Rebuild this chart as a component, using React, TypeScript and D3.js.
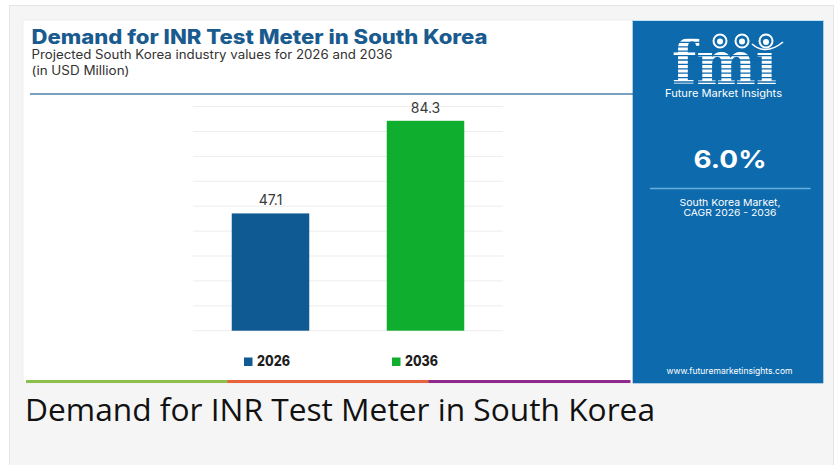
import React from "react";
import * as d3 from "d3";

const years = ["2026", "2036"];
const values = [47.1, 84.3];
const yDomainMax = 90;
const title = "Demand for INR Test Meter in South Korea";
const subtitle = "Projected South Korea industry values for 2026 and 2036";
const unitLabel = "(in USD Million)";
const cagrValue = "6.0%";
const cagrLabel1 = "South Korea Market,";
const cagrLabel2 = "CAGR 2026 - 2036";
const brand = "Future Market Insights";
const website = "www.futuremarketinsights.com";
const caption = "Demand for INR Test Meter in South Korea";

const barColors = ["#0f5a92", "#10ae2e"];
const stripeColors = ["#8cc04b", "#e8623b", "#8f2a8d"];
const PANEL = "#0c6aad";
const POP = "Inter, Roboto, 'Noto Sans', sans-serif";

export default function App() {
  const x = d3.scaleBand<string>().domain(years).range([193, 503]).paddingInner(0.5).paddingOuter(0.25);
  const y = d3.scaleLinear().domain([0, yDomainMax]).range([330.7, 106.6]);
  const ticks = y.ticks(9);
  const legendX = d3.scalePoint<string>().domain(years).range([244, 392]);
  const stripeX = d3.scaleBand<string>().domain(stripeColors).range([26, 630]);
  const logoStripes = d3.range(38, 86, 4.4);

  return (
    <div style={{ position: "fixed", left: 0, top: 0, width: 838, height: 465, background: "#fff" }}>
      <svg width={838} height={465} style={{ display: "block" }}>
        <rect x={9.5} y={5.5} width={824} height={470} fill="#f5f5f5" stroke="#e4e4e4" />
        {/* image card */}
        <rect x={23} y={20} width={610} height={363} fill="#ffffff" stroke="#ececec" strokeWidth={0.8} />
        <text x={31.5} y={43.5} fontFamily={POP} fontWeight={800} fontSize={19.5} fill="#1a5b8f" textLength={456} lengthAdjust="spacingAndGlyphs">{title}</text>
        <text x={31.5} y={59} fontFamily={POP} fontSize={12.5} fill="#333" textLength={361} lengthAdjust="spacingAndGlyphs">{subtitle}</text>
        <text x={31.5} y={75} fontFamily={POP} fontSize={12.5} fill="#333" textLength={98} lengthAdjust="spacingAndGlyphs">{unitLabel}</text>
        <line x1={30} x2={633} y1={94} y2={94} stroke="#4f81a8" strokeWidth={1.6} />

        {ticks.map((t) => (
          <line key={t} x1={193} x2={503} y1={y(t)} y2={y(t)} stroke="#ededed" strokeWidth={1} />
        ))}
        {years.map((yr, i) => (
          <g key={yr}>
            <rect x={x(yr)} y={y(values[i])} width={x.bandwidth()} height={y(0) - y(values[i])} fill={barColors[i]} />
            <text x={(x(yr) as number) + x.bandwidth() / 2} y={y(values[i]) - 8} textAnchor="middle" fontFamily={POP} fontSize={14} fill="#3a3a3a">
              {values[i].toFixed(1)}
            </text>
          </g>
        ))}
        {years.map((yr, i) => (
          <g key={"lg" + yr}>
            <rect x={legendX(yr)} y={357.5} width={8.5} height={8.5} fill={barColors[i]} />
            <text x={(legendX(yr) as number) + 13} y={366} fontFamily={POP} fontWeight={800} fontSize={14} fill="#1e1e1e" textLength={33} lengthAdjust="spacingAndGlyphs">{yr}</text>
          </g>
        ))}
        {stripeColors.map((c) => (
          <rect key={c} x={stripeX(c)} y={380} width={stripeX.bandwidth() + 0.5} height={3} fill={c} />
        ))}

        {/* right panel */}
        <rect x={632.7} y={20} width={190.6} height={363.3} fill={PANEL} />
        <line x1={632.7} x2={823.3} y1={20.5} y2={20.5} stroke="#bfe6f5" strokeWidth={1} />
        <g transform="translate(672,83.5) scale(1,1.6)">
          <text x={0} y={0} fontFamily="'DejaVu Serif', serif" fontWeight={700} fontSize={37.5} fill="#fff" textLength={105} lengthAdjust="spacingAndGlyphs">fmı</text>
        </g>
        {logoStripes.map((s) => (
          <line key={s} x1={668} x2={782} y1={s} y2={s} stroke={PANEL} strokeWidth={1.3} />
        ))}
        <circle cx={720} cy={41} r={6.5} fill="none" stroke="#fff" strokeWidth={2} />
        <circle cx={720} cy={41.5} r={3} fill="#fff" />
        <circle cx={742} cy={41} r={6.5} fill="none" stroke="#fff" strokeWidth={2} />
        <circle cx={742} cy={41.5} r={3} fill="#fff" />
        <circle cx={766} cy={41} r={6.5} fill="none" stroke="#fff" strokeWidth={2} />
        <circle cx={766} cy={42} r={3} fill="#fff" />
        <path d="M752,44 Q766,56 783,42" fill="none" stroke="#fff" strokeWidth={1.6} />
        <text x={665} y={96.5} fontFamily={POP} fontSize={10.5} fill="#fff" textLength={117} lengthAdjust="spacingAndGlyphs">{brand}</text>
        <text x={730} y={168} textAnchor="middle" fontFamily={POP} fontWeight={700} fontSize={24} fill="#fff" textLength={73} lengthAdjust="spacingAndGlyphs">{cagrValue}</text>
        <line x1={650} x2={810.5} y1={188.5} y2={188.5} stroke="#6aaede" strokeWidth={1.4} />
        <text x={730} y={206} textAnchor="middle" fontFamily={POP} fontSize={9.5} fill="#fff" textLength={101} lengthAdjust="spacingAndGlyphs">{cagrLabel1}</text>
        <text x={730} y={216} textAnchor="middle" fontFamily={POP} fontSize={9.5} fill="#fff" textLength={93} lengthAdjust="spacingAndGlyphs">{cagrLabel2}</text>
        <text x={729.5} y={374} textAnchor="middle" fontFamily={POP} fontSize={8.5} fill="#fff" textLength={126} lengthAdjust="spacingAndGlyphs">{website}</text>

        <text x={25} y={421} fontFamily="'Open Sans', sans-serif" fontSize={31.5} fill="#111" textLength={630} lengthAdjust="spacingAndGlyphs">{caption}</text>
      </svg>
    </div>
  );
}
